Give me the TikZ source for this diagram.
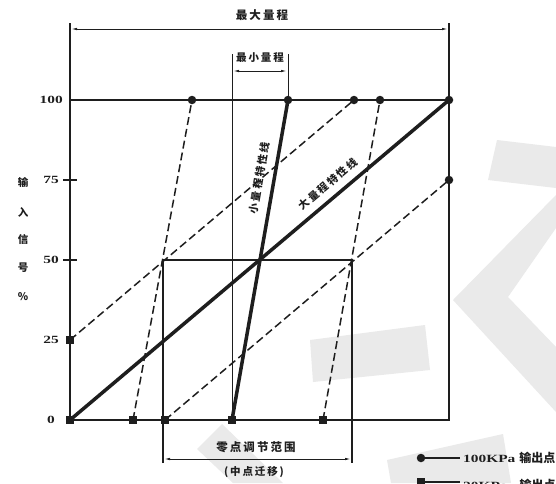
\documentclass[tikz,border=0pt]{standalone}
\usepackage{fontspec}
\setmainfont{Liberation Serif}
\newfontfamily\cjk[LetterSpace=18]{Noto Sans CJK SC}
\newfontfamily\cjkn{Noto Sans CJK SC}
\usetikzlibrary{arrows.meta}
\definecolor{ink}{HTML}{1E1E1E}
\definecolor{wm}{HTML}{EAEAEA}
\newcommand{\widenum}[1]{\scalebox{1.4}[1]{#1}}
\begin{document}
\begin{tikzpicture}[x=1pt,y=-1pt,
  frame/.style={line width=1.8pt, ink},
  thickline/.style={line width=3.5pt, ink},
  dashline/.style={line width=1.5pt, ink, dash pattern=on 8pt off 4pt},
  thinline/.style={line width=1pt, ink},
  dot/.style={circle, fill=ink, inner sep=0pt, minimum size=8.5pt},
  sq/.style={rectangle, fill=ink, inner sep=0pt, minimum size=8.5pt},
  dim/.style={line width=1pt, ink, {Latex[length=7pt,width=2.4pt]}-{Latex[length=7pt,width=2.4pt]}},
  lbl/.style={font=\fontsize{11.5}{12}\cjk\bfseries, text=ink, inner sep=0pt},
  num/.style={font=\fontsize{11}{12}\selectfont\bfseries, text=ink, inner sep=0pt},
]
\clip (0,0) rectangle (556,483);
\fill[white] (0,0) rectangle (556,483);
% watermark shapes
\fill[wm] (497,140) -- (556,147) -- (556,228) -- (508,297) -- (556,347) -- (556,412) -- (453,300) -- (556,195) -- (556,188) -- (488,180) -- cycle;
\fill[wm] (310,340) -- (425,325) -- (430,370) -- (313,382) -- cycle;
\fill[wm] (197,449) -- (222,424) -- (283,483) -- (233,483) -- cycle;
\fill[wm] (387,460) -- (503,434) -- (511,483) -- (391,483) -- cycle;

% coordinates
\coordinate (O) at (70,420);
\coordinate (TL) at (70,23);
\coordinate (TR) at (449,23);
\coordinate (BR) at (449,420);
\coordinate (L100) at (70,100);
\coordinate (R100) at (449,100);
\coordinate (t1) at (192,100);
\coordinate (t2) at (288,100);
\coordinate (t3) at (354,100);
\coordinate (t4) at (380,100);
\coordinate (t5) at (449,100);
\coordinate (r75) at (449,180);
\coordinate (b2) at (133,420);
\coordinate (b3) at (165,420);
\coordinate (b4) at (232,420);
\coordinate (b5) at (323,420);
\coordinate (l25) at (70,340);
\coordinate (mL) at (232,54);
\coordinate (mR) at (288,54);
\coordinate (rA) at (163,260);
\coordinate (rB) at (352,260);
\coordinate (rC) at (163,463);
\coordinate (rD) at (352,463);

% frame
\draw[frame] (TL) -- (O) -- (BR) -- (TR);
\draw[frame] (L100) -- (R100);
\draw[frame] (63,180) -- (77,180);
\draw[frame] (63,260) -- (77,260);

% max range dimension
\draw[dim] (70,29) -- (449,29);
\node[lbl] (maxl) at (262,15) {最大量程};

% min range dimension
\draw[thinline] (mL) -- (b4);
\draw[thinline] (mR) -- (t2);
\draw[dim] (232,71) -- (288,71);
\node[lbl, font=\fontsize{10.5}{11}\cjk\bfseries] (minl) at (260,58) {最小量程};

% zero adjustment range
\draw[thinline, line width=1.3pt] (rC) -- (rA) -- (rB) -- (rD);
\draw[dim] (163,459) -- (352,459);
\node[lbl] (zl) at (256,447) {零点调节范围};
\node[lbl, font=\fontsize{10.5}{11}\cjk\bfseries] (zl2) at (254,472) {(中点迁移)};

% characteristic lines
\draw[dashline] (b2) -- (t1);
\draw[dashline] (b5) -- (t4);
\draw[dashline] (l25) -- (t3);
\draw[dashline] (b3) -- (r75);
\draw[thickline] (O) -- (t5);
\draw[thickline] (b4) -- (t2);

\node[lbl, font=\fontsize{10.5}{11}\cjk\bfseries, rotate=80] (sl) at (259,178) {小量程特性线};
\node[lbl, font=\fontsize{10.5}{11}\cjk\bfseries, rotate=40] (bl) at (328,184) {大量程特性线};

% markers
\foreach \p in {t1,t2,t3,t4,t5,r75} \node[dot] (d-\p) at (\p) {};
\foreach \p in {O,b2,b3,b4,b5,l25} \node[sq] (s-\p) at (\p) {};

% axis labels
\node[num, anchor=east] (n100) at (63,100) {\widenum{100}};
\node[num, anchor=east] (n75) at (59,180) {\widenum{75}};
\node[num, anchor=east] (n50) at (59,260) {\widenum{50}};
\node[num, anchor=east] (n25) at (59,340) {\widenum{25}};
\node[num, anchor=east] (n0) at (55,420) {\widenum{0}};

\node[lbl, font=\fontsize{10.5}{11}\cjkn\bfseries] (y1) at (23,182) {输};
\node[lbl, font=\fontsize{10.5}{11}\cjkn\bfseries] (y2) at (23,212) {入};
\node[lbl, font=\fontsize{10.5}{11}\cjkn\bfseries] (y3) at (23,239) {信};
\node[lbl, font=\fontsize{10.5}{11}\cjkn\bfseries] (y4) at (23,268) {号};
\node[lbl, font=\fontsize{10.5}{11}\cjkn\bfseries] (y5) at (23,297) {\%};

% legend
\coordinate (lg1a) at (421,458);
\coordinate (lg1b) at (460,458);
\coordinate (lg2a) at (421,482);
\coordinate (lg2b) at (460,482);
\draw[frame] (lg1a) -- (lg1b);
\draw[frame] (lg2a) -- (lg2b);
\node[dot] (lgd) at (lg1a) {};
\node[sq] (lgs) at (lg2a) {};
\node[anchor=west, inner sep=0pt, text=ink] (lgt1) at (463,458) {\fontsize{11}{12}\selectfont\bfseries \widenum{100KPa}\hspace{4pt}{\cjkn\fontsize{12}{12}\selectfont 输出点}};
\node[anchor=west, inner sep=0pt, text=ink] (lgt2) at (463,485) {\fontsize{11}{12}\selectfont\bfseries \widenum{20KPa}\hspace{12pt}{\cjkn\fontsize{12}{12}\selectfont 输出点}};
\end{tikzpicture}
\end{document}
